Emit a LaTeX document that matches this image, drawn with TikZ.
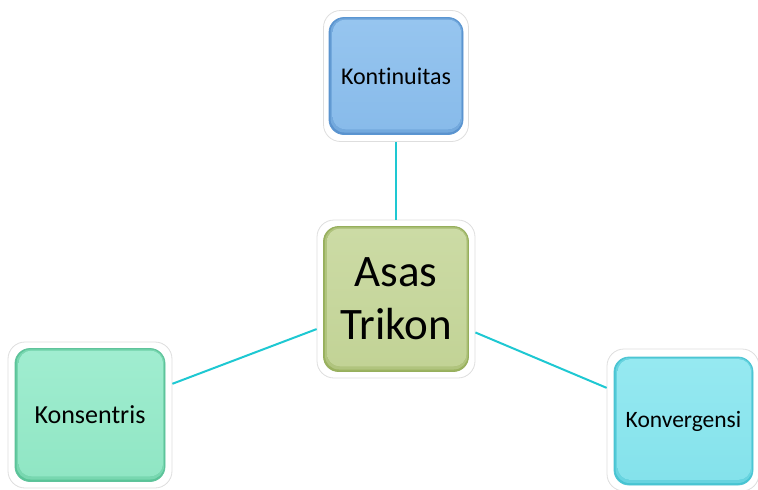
\documentclass[tikz,border=0pt]{standalone}
\usepackage{fontspec}
\setmainfont{Carlito}[Ligatures=NoCommon]
\begin{document}
\begin{tikzpicture}[x=1pt,y=-1pt,
  frame/.style={draw=black!13, fill=white, line width=0.8pt, rounded corners=17pt, inner sep=0pt},
  box/.style n args={4}{rounded corners=15pt, inner sep=0pt, line width=0.8pt, align=center, text=black,
    fill=#1, draw=#4,
    path picture={
      \fill[#1!45!#2, rounded corners=14pt] ([xshift=1.5pt,yshift=2pt]path picture bounding box.south west) rectangle ([xshift=-0.8pt,yshift=-0.8pt]path picture bounding box.north east);
      \fill[top color=#3, bottom color=#2, rounded corners=13pt] ([xshift=3.5pt,yshift=5pt]path picture bounding box.south west) rectangle ([xshift=-1.8pt,yshift=-2pt]path picture bounding box.north east);
    }},
  conn/.style={draw=lineC, line width=2pt}]
\definecolor{lineC}{RGB}{30,200,210}
\definecolor{cEdg}{RGB}{155,178,96}\definecolor{cBas}{RGB}{194,211,150}\definecolor{cTop}{RGB}{204,219,165}\definecolor{cBrd}{RGB}{150,175,92}
\definecolor{bEdg}{RGB}{90,146,205}\definecolor{bBas}{RGB}{136,187,234}\definecolor{bTop}{RGB}{150,197,239}\definecolor{bBrd}{RGB}{90,150,210}
\definecolor{gEdg}{RGB}{90,196,152}\definecolor{gBas}{RGB}{144,230,196}\definecolor{gTop}{RGB}{160,237,208}\definecolor{gBrd}{RGB}{95,195,155}
\definecolor{yEdg}{RGB}{70,196,210}\definecolor{yBas}{RGB}{132,226,235}\definecolor{yTop}{RGB}{150,233,241}\definecolor{yBrd}{RGB}{80,198,212}
\useasboundingbox (0,0) rectangle (758,490);
% frames
\node[frame, minimum width=158pt, minimum height=158pt] (c) at (396,299) {};
\node[frame, minimum width=145pt, minimum height=131pt] (t) at (396,76) {};
\node[frame, minimum width=164pt, minimum height=146pt] (l) at (90,415) {};
\node[frame, minimum width=152pt, minimum height=142pt] (r) at (683,420) {};
% connectors
\draw[conn] (c) -- (t);
\draw[conn] (c) -- (l);
\draw[conn] (c) -- (r);
% inner boxes
\node[box={cEdg}{cBas}{cTop}{cBrd}, minimum width=145pt, minimum height=145pt,
      font=\fontsize{45}{53}\selectfont] (cb) at (c) {Asas\\Trikon};
\node[box={bEdg}{bBas}{bTop}{bBrd}, minimum width=134pt, minimum height=117pt,
      font=\fontsize{24}{28}\selectfont] (tb) at (t) {Kontinuitas};
\node[box={gEdg}{gBas}{gTop}{gBrd}, minimum width=150pt, minimum height=133pt,
      font=\fontsize{26}{30}\selectfont] (lb) at (l) {Konsentris};
\node[box={yEdg}{yBas}{yTop}{yBrd}, minimum width=139pt, minimum height=128pt,
      font=\fontsize{23.5}{28}\selectfont] (rb) at (683.5,421) {Konvergensi};
\end{tikzpicture}
\end{document}
